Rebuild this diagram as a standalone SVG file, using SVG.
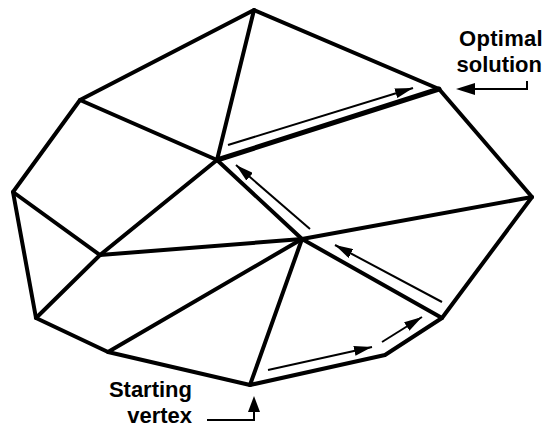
<svg xmlns="http://www.w3.org/2000/svg" width="545" height="427" viewBox="0 0 545 427">
<style>
.e{stroke:#000;stroke-width:4;fill:none;stroke-linecap:round;stroke-linejoin:round}
.t{stroke:#000;stroke-width:2;fill:none}
.lbl{font-family:"Liberation Sans",Arial,sans-serif;font-weight:bold;font-size:22px;fill:#000}
</style>
<defs>
<marker id="ah2" viewBox="0 0 10 10" refX="10" refY="5" markerWidth="18" markerHeight="10" markerUnits="userSpaceOnUse" orient="auto" preserveAspectRatio="none"><path d="M0,0 L10,5 L0,10 Z" fill="#000"/></marker>
</defs>
<g id="edges">
<polygon class="e" points="254,10 80,100 13,192 36,318 108,352 250,385 385,355 442,318 532,197 439,89"/>
<line class="e" x1="254" y1="10" x2="217" y2="160"/>
<line class="e" x1="80" y1="100" x2="217" y2="160"/>
<line class="e" x1="217" y1="160" x2="439" y2="89" style="stroke-width:5"/>
<line class="e" x1="217" y1="160" x2="302" y2="239"/>
<line class="e" x1="217" y1="160" x2="100" y2="255"/>
<line class="e" x1="13" y1="192" x2="100" y2="255"/>
<line class="e" x1="100" y1="255" x2="36" y2="318"/>
<line class="e" x1="100" y1="255" x2="302" y2="239"/>
<line class="e" x1="108" y1="352" x2="302" y2="239"/>
<line class="e" x1="302" y1="239" x2="250" y2="385"/>
<line class="e" x1="302" y1="239" x2="532" y2="197"/>
<line class="e" x1="302" y1="239" x2="442" y2="318"/>
</g>
<g id="path-arrows">
<line class="t" x1="268" y1="370" x2="372" y2="347" marker-end="url(#ah2)"/>
<line class="t" x1="382" y1="342" x2="422" y2="317" marker-end="url(#ah2)"/>
<line class="t" x1="442" y1="302" x2="335" y2="245" marker-end="url(#ah2)"/>
<line class="t" x1="310" y1="229" x2="236" y2="165" marker-end="url(#ah2)"/>
<line class="t" x1="228" y1="145" x2="413" y2="88" marker-end="url(#ah2)"/>
</g>
<g id="label-optimal">
<text class="lbl" x="543" y="46" text-anchor="end" letter-spacing="0.3">Optimal</text>
<text class="lbl" x="542" y="72" text-anchor="end">solution</text>
<polyline class="t" points="527,81 527,89 470,89"/>
<polygon points="456,89 475,83 475,95" fill="#000"/>
</g>
<g id="label-start">
<text class="lbl" x="192" y="397" text-anchor="end">Starting</text>
<text class="lbl" x="192" y="423" text-anchor="end">vertex</text>
<polyline class="t" points="207,420 254,420 254,410"/>
<polygon points="254,396 248,412 260,412" fill="#000"/>
</g>
</svg>
